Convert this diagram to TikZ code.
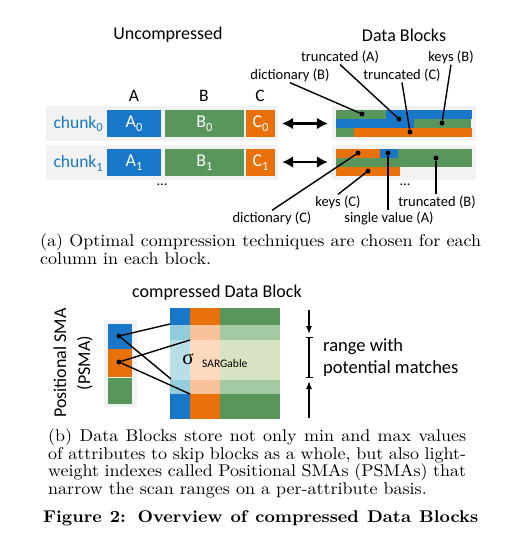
\documentclass[tikz,border=0pt]{standalone}
\usepackage{fontspec}
\newfontfamily\calib{Carlito}
\newfontfamily\libser{Liberation Serif}
\usetikzlibrary{arrows.meta}
\definecolor{cblue}{HTML}{1877C8}
\definecolor{corange}{HTML}{E9710C}
\definecolor{cgreen}{HTML}{58965C}
\definecolor{bggray}{HTML}{F2F2F2}
\definecolor{lblueM}{HTML}{92CDDE}
\definecolor{lblueL}{HTML}{B8DEE8}
\definecolor{lorangeM}{HTML}{F7C299}
\definecolor{lorangeL}{HTML}{FBD9BE}
\definecolor{lgreenM}{HTML}{A4CAA3}
\definecolor{lgreenL}{HTML}{D8E4C1}
\newcommand\sbx[1]{\raisebox{-0.22em}{\fontsize{12.5}{12.5}\selectfont #1}}
\newcommand\capl[1]{\scalebox{1.8}[1.7]{\fontsize{10}{12}\selectfont #1}}
\tikzset{
  lbl/.style={font=\calib\fontsize{14.5}{17}\selectfont, inner sep=1pt},
  big/.style={font=\calib\fontsize{18}{22}\selectfont},
  col/.style={font=\calib\fontsize{17.5}{20}\selectfont},
  cell/.style={minimum height=27pt, inner sep=0pt, text=white, font=\calib\fontsize{18}{20}\selectfont},
  rowbg/.style={fill=bggray, minimum height=35pt, inner sep=0pt},
  dotn/.style={circle, fill=black, minimum size=5pt, inner sep=0pt},
  lead/.style={line width=1.4pt},
  captext/.style={anchor=west, inner sep=0pt},
  dbl/.style={line width=2.6pt, {Latex[length=11pt,width=12pt]}-{Latex[length=11pt,width=12pt]}, shorten <=4pt, shorten >=4pt},
}
\begin{document}
\begin{tikzpicture}[x=1pt,y=-1pt]
\useasboundingbox[fill=white] (0,0) rectangle (521,542);

% ---------- part (a) ----------
\node[big] (tunc) at (168,35) {Uncompressed};
\node[big] (tdb) at (404,35) {Data Blocks};

\node[col] (cA) at (134,96) {A};
\node[col] (cB) at (204,96) {B};
\node[col] (cC) at (260,96) {C};

\node[rowbg, minimum width=232pt] (r0) at (162,123.5) {};
\node[rowbg, minimum width=232pt] (r1) at (162,162) {};
\node[col, text=cblue, anchor=west] (ch0) at (50,124) {chunk\sbx{0}};
\node[col, text=cblue, anchor=west] (ch1) at (50,163) {chunk\sbx{1}};

\node[cell, fill=cblue, minimum width=54pt] (A0) at (134,123.5) {A\sbx{0}};
\node[cell, fill=cgreen, minimum width=79pt] (B0) at (204.5,123.5) {B\sbx{0}};
\node[cell, fill=corange, minimum width=29pt] (C0) at (260.5,123.5) {C\sbx{0}};
\node[cell, fill=cblue, minimum width=54pt] (A1) at (134,162.5) {A\sbx{1}};
\node[cell, fill=cgreen, minimum width=79pt] (B1) at (204.5,162.5) {B\sbx{1}};
\node[cell, fill=corange, minimum width=29pt] (C1) at (260.5,162.5) {C\sbx{1}};
\node[lbl] (dotsL) at (162,185) {...};

\node[rowbg, minimum width=144pt] (k0) at (404,123.5) {};
\node[rowbg, minimum width=144pt] (k1) at (404,162) {};
\draw[dbl] (r0.east) -- (k0.west);
\draw[dbl] (r1.east) -- (k1.west);

% block 0 strips
\fill[cgreen] (336,110) rectangle (386,119);
\fill[cblue] (386,110) rectangle (472,119);
\fill[cblue] (336,119) rectangle (414,128);
\fill[cgreen] (414,119) rectangle (471,128);
\fill[cgreen] (336,128) rectangle (354,137);
\fill[corange] (354,128) rectangle (472,137);
% block 1 strips
\fill[corange] (336,149) rectangle (380,158);
\fill[cblue] (380,149) rectangle (398,158);
\fill[cgreen] (398,149) rectangle (472,158);
\fill[cgreen] (336,158) rectangle (472,167);
\fill[corange] (336,167) rectangle (400,176);
\node[lbl] (dotsR) at (405,185) {...};

\node[dotn] (d1) at (362,114) {};
\node[dotn] (d2) at (399,119) {};
\node[dotn] (d3) at (442,123) {};
\node[dotn] (d4) at (410,132) {};
\node[dotn] (d5) at (358,153) {};
\node[dotn] (d6) at (388,153) {};
\node[dotn] (d7) at (436,158) {};
\node[dotn] (d8) at (368,171) {};

\node[lbl] (tA) at (340,57) {truncated (A)};
\node[lbl] (kB) at (451,57) {keys (B)};
\node[lbl] (dB) at (290,75) {dictionary (B)};
\node[lbl] (tC) at (402,75) {truncated (C)};
\node[lbl] (kC) at (338,202) {keys (C)};
\node[lbl] (tB) at (437,202) {truncated (B)};
\node[lbl] (dC) at (272,218) {dictionary (C)};
\node[lbl] (sA) at (389,218) {single value (A)};

\draw[lead] (dB.south) -- (d1);
\draw[lead] (tA.south) -- (d2);
\draw[lead] (tC.south) -- (d4);
\draw[lead] (kB.south) -- (d3);
\draw[lead] (dC.north) -- (d5);
\draw[lead] (kC.north) -- (d8);
\draw[lead] (d6) -- (d6 |- sA.north);
\draw[lead] (d7) -- (d7 |- tB.north);

\node[captext] (ca1) at (40,242) {\capl{\makebox[245pt][s]{(a) Optimal compression techniques are chosen for each}}};
\node[captext] (ca2) at (40,259) {\capl{column in each block.}};

% ---------- part (b) ----------
\node[big] (tcdb) at (217,293) {compressed Data Block};
\node[big, rotate=90, align=center, font=\calib\fontsize{18}{24}\selectfont] (psma) at (73,363) {Positional SMA\\(PSMA)};

\foreach \xa/\xb/\cd/\cm/\cl in {170/190/cblue/lblueM/lblueL, 190/220/corange/lorangeM/lorangeL, 220/280/cgreen/lgreenM/lgreenL}{
  \fill[\cd] (\xa,308) rectangle (\xb,325);
  \fill[\cm] (\xa,325) rectangle (\xb,340);
  \fill[\cl] (\xa,340) rectangle (\xb,380);
  \fill[\cm] (\xa,380) rectangle (\xb,394);
  \fill[\cd] (\xa,394) rectangle (\xb,419);
}
\node[font=\libser\fontsize{21}{21}\selectfont, inner sep=0pt] (sig) at (188,359) {σ};
\node[font=\calib\fontsize{11.5}{12}\selectfont, anchor=west, inner sep=0pt] (sarg) at (202,364) {SARGable};

\fill[bggray] (104,320) rectangle (137,407);
\fill[cblue] (108,324) rectangle (132,349);
\fill[corange] (108,349) rectangle (132,377);
\fill[cgreen] (108,378) rectangle (132,404);
\node[dotn] (p1) at (119,336) {};
\node[dotn] (p2) at (119,362) {};
\coordinate (q1) at (170,324);
\coordinate (q2) at (171,379);
\coordinate (q3) at (190,340);
\coordinate (q4) at (190,394);
\draw[lead] (p1) -- (q1);
\draw[lead] (p1) -- (q2);
\draw[lead] (p2) -- (q3);
\draw[lead] (p2) -- (q4);

\coordinate (a1) at (309,310);
\coordinate (a2) at (309,334);
\coordinate (b1) at (309,337);
\coordinate (b2) at (309,378);
\coordinate (e1) at (309,418);
\coordinate (e2) at (309,381);
\draw[line width=1.3pt, -{Latex[length=8pt,width=6pt]}] (a1) -- (a2);
\draw[line width=1.3pt, {Bar[width=7pt]}-{Bar[width=7pt]}] (b1) -- (b2);
\draw[line width=1.3pt, -{Latex[length=8pt,width=6pt]}] (e1) -- (e2);
\node[font=\calib\fontsize{18.5}{22}\selectfont, anchor=west, align=left, inner sep=0pt] (rng) at (323,358) {range with\\potential matches};

\node[captext] (cb1) at (48,437) {\capl{\makebox[232.2pt][s]{(b) Data Blocks store not only min and max values}}};
\node[captext] (cb2) at (48,455) {\capl{\makebox[232.2pt][s]{of attributes to skip blocks as a whole, but also light-}}};
\node[captext] (cb3) at (48,472) {\capl{\makebox[232.2pt][s]{weight indexes called Positional SMAs (PSMAs) that}}};
\node[captext] (cb4) at (48,490) {\capl{narrow the scan ranges on a per-attribute basis.}};

\node[captext] (fig) at (43,518) {\capl{\bfseries\makebox[241.7pt][s]{Figure 2: Overview of compressed Data Blocks}}};
\end{tikzpicture}
\end{document}
